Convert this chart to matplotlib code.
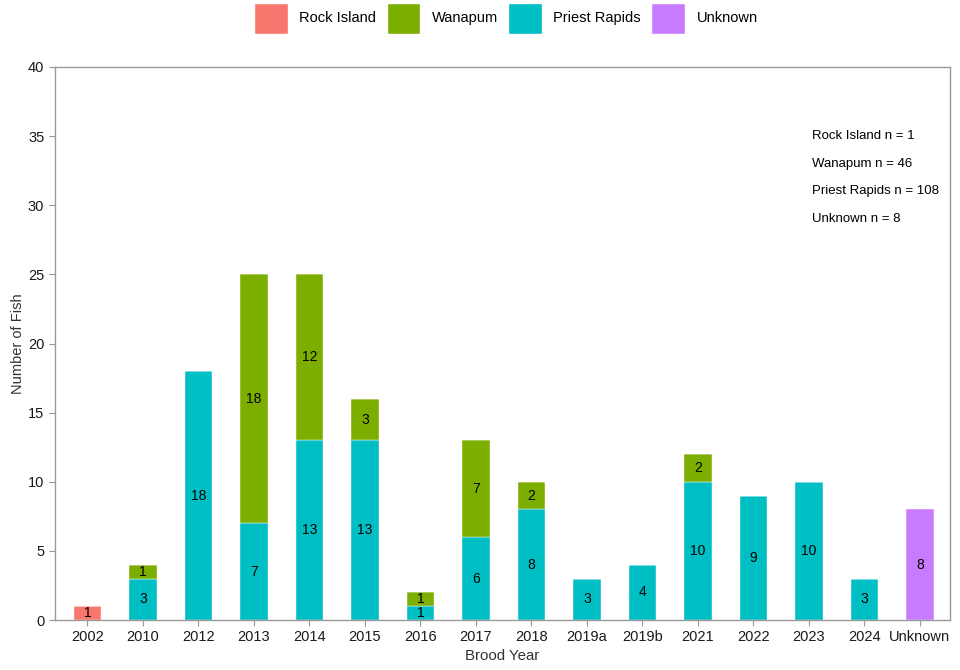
import numpy as np
import matplotlib.pyplot as plt
from matplotlib.patches import Patch

plt.rcParams['font.family'] = ['Liberation Sans', 'DejaVu Sans']

years = ["2002", "2010", "2012", "2013", "2014", "2015", "2016", "2017",
         "2018", "2019a", "2019b", "2021", "2022", "2023", "2024", "Unknown"]
rock_island = [1, 0, 0, 0, 0, 0, 0, 0, 0, 0, 0, 0, 0, 0, 0, 0]
priest_rapids = [0, 3, 18, 7, 13, 13, 1, 6, 8, 3, 4, 10, 9, 10, 3, 0]
wanapum = [0, 1, 0, 18, 12, 3, 1, 7, 2, 0, 0, 2, 0, 0, 0, 0]
unknown = [0, 0, 0, 0, 0, 0, 0, 0, 0, 0, 0, 0, 0, 0, 0, 8]

series = ["Rock Island", "Wanapum", "Priest Rapids", "Unknown"]
colors = {"Rock Island": "#F8766D", "Wanapum": "#7CAE00",
          "Priest Rapids": "#00BFC4", "Unknown": "#C77CFF"}

fig = plt.figure(figsize=(9.6, 6.7), dpi=100)
ax = fig.add_axes([0.057, 0.0746, 0.933, 0.8254])

x = np.arange(len(years))
width = 0.5

# stacking order bottom -> top
stack = [("Rock Island", rock_island), ("Priest Rapids", priest_rapids),
         ("Wanapum", wanapum), ("Unknown", unknown)]
bottom = np.zeros(len(years))
for name, vals in stack:
    vals = np.array(vals, dtype=float)
    ax.bar(x + 0.02, vals, width, bottom=bottom, color=colors[name],
           edgecolor='white', linewidth=0.3)
    for xi, v, b in zip(x, vals, bottom):
        if v > 0:
            ax.text(xi + 0.02, b + v / 2, f"{int(v)}", ha='center', va='center',
                    fontsize=10, color='black')
    bottom += vals

ax.set_xlim(-0.57, len(years) - 0.43)
ax.set_ylim(0, 40)
ax.set_yticks(np.arange(0, 41, 5))
ax.set_xticks(x + 0.02)
ax.set_xticklabels(years)
ax.set_xlabel("Brood Year", fontsize=10.8, color='#333333', labelpad=3)
ax.set_ylabel("Number of Fish", fontsize=10.5, color='#333333', labelpad=2)

for s in ax.spines.values():
    s.set_color('#999999')
    s.set_linewidth(1.0)
ax.tick_params(axis='both', colors='#999999', labelcolor='#1a1a1a',
               labelsize=10.5, length=4)

totals = [("Rock Island", sum(rock_island)), ("Wanapum", sum(wanapum)),
          ("Priest Rapids", sum(priest_rapids)), ("Unknown", sum(unknown))]
for (name, n), yy in zip(totals, [35, 33, 31, 29]):
    ax.text(0.846, yy, f"{name} n = {n}", transform=ax.get_yaxis_transform(),
            ha='left', va='center', fontsize=9.5, color='black')

handles = [Patch(facecolor=colors[s], edgecolor='white') for s in series]
fig.legend(handles, series, loc='center', bbox_to_anchor=(0.527, 0.973),
           ncol=4, frameon=False, fontsize=10.5, handlelength=2.3,
           handleheight=2.9, handletextpad=0.8, columnspacing=0.7)

fig.savefig("out.png", dpi=100)
